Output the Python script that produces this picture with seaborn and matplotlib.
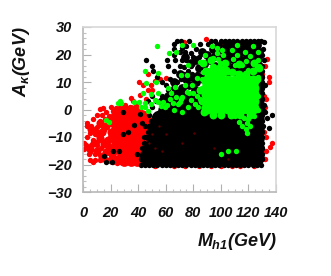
import matplotlib
matplotlib.use("Agg")
import matplotlib.pyplot as plt
import seaborn as sns
import pandas as pd
from matplotlib.ticker import MultipleLocator

sns.set_theme(style="white")
plt.rcParams['font.family'] = ['Liberation Sans', 'DejaVu Sans']
plt.rcParams['mathtext.fontset'] = 'custom'
plt.rcParams['mathtext.it'] = 'Liberation Sans:italic:bold'
plt.rcParams['mathtext.rm'] = 'Liberation Sans:italic:bold'

x_ticks = [0, 20, 40, 60, 80, 100, 120, 140]
y_ticks = [-30, -20, -10, 0, 10, 20, 30]

red_core = [
 (30,0),(35,0),(39,0),(24,-2),(29,-2),(34,-2),(39,-2),(43,-2),
 (22,-4.5),(27,-4.5),(32,-4.5),(37,-4.5),(42,-4.5),(47,-4.5),
 (24,-7),(30,-7),(35,-7),(40,-7),(45,-7),(22,-9.5),(28,-9.5),(33,-9.5),(38,-9.5),(43,-9.5),
 (26,-12),(31,-12),(36,-12),(41,-12),(46,-12),(24,-14.5),(29,-14.5),(34,-14.5),(39,-14.5),
 (28,-17),(33,-17),(37,-17),(42,-17),(30,-18.8),(35,-18.8),(39,-18.8),(44,-18.8),
]
red_mid = [
 (17,-6),(20,-8),(14,-8),(18,-11),(15,-12.5),(19,-13.5),(21,-16),(17,-15.5),(23,-12),(12,-5),(10,-8.5),(8,-12),
 (21,-3),(25,-0.5),(18,-4),(12,-10.5),(5,-14.5),(10,-15),(24,-18),(20,-18.5),(14,-17.5),(6,-7),
]
red_small = [
 (47.2,12.8),(40.7,10.1),(43.6,8.9),(49.6,8.9),(47.2,7.1),(52,10.5),(56.1,11),(60,11.3),(34.6,4.3),(41,5.3),
 (14.5,.4),(12.5,.2),(20.6,.8),(22,-.5),(30.2,1.6),(46,4),(50,7.1),(38.7,1.6),(33.9,1),(24.2,.4),(27,1),(36,3),
 (10,-2),(14,-2),(17,-1),(19,-2.5),(7,-3.5),(12,-4),(16,-3.5),(3,-6),(6,-6),(10,-6.5),(14,-6),
 (5,-8.5),(9,-9),(13,-9),(15,-7.5),(3,-10),(7,-11),(11,-11.5),(14,-11),(2.5,-13),(6,-13),(10,-13),(13,-14),
 (1,-14.5),(5,-15.5),(4,-16),(9,-16),(12,-16.5),(15,-16),(5,-18.5),(7,-19),(9,-18.5),(12,-18.5),(17,-18),(19,-18.5),(22,-19),(25,-19.5),(27,-19),
 (20,-16),(1,-12),(3,-5),(8,-7.5),
 (133.4,18.4),(135,11.9),(135,10),(132,16),(132,1),(133,4),(137,-12),(136,-13.6),(133,-15),(132,-18),(131,-8),
 (52,-20.5),(66,-20.5),(74,-20.4),(84,-20.5),(93,-20.5),(100,-20.4),(108,-20.5),(114,-20.5),(124,-20.4),
 (133,-10),(131,5),(130,13),(73,24.5),(89,25.5),(100,24),(103,24.5),(115,22),
]
black_core = [
 (47,-17.3),(53,-17.3),(59,-17.3),(65,-17.3),(71.5,-17.3),(78,-17.3),(84.5,-17.3),(91,-17.3),(97.5,-17.3),(104,-17.3),(110.5,-17.3),(117,-17.3),(124.5,-17.3),
 (50,-14),(56,-14),(62,-14),(68,-14),(74.5,-14),(81,-14),(87.5,-14),(94,-14),(100.5,-14),(107,-14),(113.5,-14),(120,-14),(124.5,-14),
 (52,-10.5),(58.5,-10.5),(65,-10.5),(71.5,-10.5),(78,-10.5),(84.5,-10.5),(91,-10.5),(97.5,-10.5),(104,-10.5),(110.5,-10.5),(117,-10.5),(124.5,-10.5),
 (53,-7),(59,-7),(65,-7),(71,-7),(77.5,-7),(84,-7),(90.5,-7),(97,-7),(103.5,-7),(110,-7),(116.5,-7),(124.5,-7),
 (56,-3.5),(62.5,-3.5),(69,-3.5),(75.5,-3.5),(82,-3.5),(88.5,-3.5),(95,-3.5),(101.5,-3.5),(108,-3.5),(114.5,-3.5),(124.5,-3.5),
 (61,0),(67.5,0),(74,0),(80.5,0),(87,0),(94,0),(105,0),(115,0),(124.5,0),
 (67,3.5),(73,3.5),(79.5,3.5),(86,3.5),
 (124.5,4),(124.5,8),(124.5,12),(96,4),(106,6),(116,6),
]
black_mid = [
 (104,23.5),(108.5,23.5),(113,23.5),(117.5,23.5),(122,23.5),(126.5,23.5),
 (102,21),(106.5,21),(111,21),(115.5,21),(120,21),(124.5,21),(127.5,21),
 (100,18.5),(104.5,18.5),(109,18.5),(113.5,18.5),(118,18.5),(122.5,18.5),(127,18.5),
 (96,16),(101,16),(105.5,16),(110,16),(114.5,16),(119,16),(123.5,16),(127.5,16),
 (90,13.5),(95,13.5),(100,13.5),(105,13.5),(110,13.5),(115,13.5),(120,13.5),(127,13),
 (82,10),(87,11),(72,8),(77,9),(81,7),(68,6),(84,15),(88,16.5),(92,18),(96,19.5),(94,22),(98,23),
 (127.5,9),(127.5,5),(127.5,1),(128,-2),(75,11),(79,12),(84,12),(62,5),(57,3),
 (90,20),(86,21),(82,18),(78,17),(74,19),(70,13),(66,10),
]
black_small = [
 (42,-20),(45,-20),(48,-20),(51,-20),(54,-20),(57,-20),(60,-20),(63,-20),(66,-20),(69,-20),(72,-20),(75,-20),(78,-20),(81,-20),(84,-20),
 (87,-20),(90,-20),(93,-20),(96,-20),(99,-20),(102,-20),(105,-20),(108,-20),(111,-20),(114,-20),(117,-20),(120,-20),(123,-20),(126,-20),(129,-20),
 (130,-18),(130,-16),(130,-14),(130,-12),(130,-10),(130,-8),(130.5,-6),(130,-4),(130,-2),(130.5,0),(129.5,2),(130,4),(130,6),(130,8),(129.5,10),(130,12),(130,14),(130,16),(131,18),(130,20),(130.5,22),(131,24.5),
 (103,25),(106,25),(109,25),(112,25),(115,25),(118,25),(121,25),(124,25),(127,25),(129,25),
 (137,-2),(135,-6.7),(133.5,-3),(131.6,1.6),(132,9),(132,-1),
 (15,-17),(17,-19),(21,-19),(22,-15),(26,-15),(29,-9),(39,-16),(29,-1),(37,-5.5),(43,-5),(41,-1.5),(33,-8),(44,-10),(43,-14),(42,-18),(46,-19),
 (50,5),(47,3),(53,3),(57,5),(60,4),(62,7),(65,8),(60,9),(63,11),(68,10),(71,11),(73,13),(76,14),(79,13),(83,13),(66,14),(70,16),
 (57,10),(53.5,12),(50,16),(46,18),(51,14),(61,18),(67,18),(72,18),(66,22),(62,16),(68,25),(71,25),(74,21),(72,22.5),(78,20.5),(80,19),
 (75,18),(77,25),(82,22),(85,24),(87,21),(91,24),(93,25),(96,25),(84,19),(70,21),(66,20),(66,24),(75,23),
 (100,25),(98,21),(73,15.5),(78,16),(56,-1),(48,-2),(45,-6),(50,1),(49,-4),(47,-8),(46,-10),(44,-12),(48,-6),
]
red_over = [(80.6,-8.5),(95,-14),(72,-12),(60,-9),(55,-6),(52,-14),(48,-12),(50,-9),(105,-18),(57,-15)]
green_core = [
 (90,0.5),(95,0.5),(100,0.5),(105,0.5),(110,0.5),(115,0.5),(120,0.5),(123.5,0.5),
 (90,3),(95,3),(100,3),(105,3),(110,3),(115,3),(120,3),(123.5,3),
 (90,5.5),(95,5.5),(100,5.5),(105,5.5),(110,5.5),(115,5.5),(120,5.5),(123.5,5.5),
 (90,8),(95,8),(100,8),(105,8),(110,8),(115,8),(120,8),(123.5,8),
 (90,10.5),(95,10.5),(100,10.5),(105,10.5),(110,10.5),(115,10.5),(120,10.5),(123.5,10.5),
 (92,13),(97,13),(101,14),
]
green_mid = [
 (89,14),(94,15.5),(99,15),(104,14.5),(108,13.5),(113,13),(118,13),(123,14),(126,11),
 (87,17),(93,18),(103,17),(113,16.5),(124,17),(127.5,15),(88,-1),(94,-2),(100,-2),(107,-2),(114,-2),(121,-2),(86,3),(85,7),
]
green_small = [
 (71.6,23.4),(80,23.4),(93.9,23.2),(97,22.2),(100.7,21.6),(111.5,23.4),(123.6,23.2),(108.4,21.6),(127.3,21),(117.6,21),
 (112,19.8),(121.2,19.4),(127.3,18),(88.5,19.8),(94.6,18.6),(101.9,19.8),(103,16.8),(110.3,16.2),(115.2,16.2),(120,14.3),
 (126,15.6),(105.5,13.7),(111.5,13.1),(99.4,16.8),(94.6,15),(88.5,14.4),(84.9,17.4),(76.5,16.2),(75.2,12.5),(82.5,11.3),
 (78.9,8.9),(75.2,6.5),(71.6,4.7),(78.4,3.4),(83.7,0.8),(87.3,13.7),(86,8),(85,4),(86,11),(127,12),(127,5),(127,0),
 (53.7,23.2),(62.4,20.4),(67.3,20.9),(44.8,14.1),(54.5,13.1),(52.8,10.1),(45.5,9.7),(71.4,12.5),(49.6,5.5),(43.6,5.9),
 (26.6,3.1),(25.4,2.5),(27.8,2.5),(36.8,2.6),(40.7,2.8),(42.4,0.8),(44.8,2.5),(52,3.4),(54.5,5.9),(58,2.8),(61.7,7.7),
 (66.5,8.3),(67.8,4.7),(71.4,4),(62.9,4),(59.3,1),(65.3,2.2),(56.9,1.3),(70.2,2.8),(54.5,2.8),(44.8,.8),
 (16.7,-3.8),(19.1,-4.4),(47.4,-0.4),(49,2),(61,1.5),(66,0),(72,-1),
 (120,-3.5),(124,-2.5),(117,-3),(110,-2.5),(119,-5),(118,-7),(119,-8.5),(115,-6),(121,-6),
 (113,-4.5),(100,-16),(105,-15),(111,-15),
 (83,5),(81,2),(76,1),(77,6),(80,6),(74,9),(69,2),(64,6),
 (98,18.5),(109,18.5),(118,17.5),(128,16),(97,20.5),
]

def frame(pts):
    return pd.DataFrame(pts, columns=["mh1", "akappa"])

fig = plt.figure(figsize=(3.31, 2.76), dpi=100)
ax = fig.add_axes([83/331, 1-192/276, 193/331, 165/276])

layers = [
    (red_core, "#ff0000", 60), (red_mid, "#ff0000", 34), (red_small, "#ff0000", 15),
    (black_core, "#000000", 175), (black_mid, "#000000", 40), (black_small, "#000000", 15),
    (red_over, "#5a0000", 3),
    (green_core, "#00ff00", 75), (green_mid, "#00ff00", 32), (green_small, "#00ff00", 15),
]
for pts, col, size in layers:
    sns.scatterplot(data=frame(pts), x="mh1", y="akappa", color=col, s=size,
                    linewidth=0, ax=ax, legend=False, clip_on=True)

ax.set_xlim(0, 140)
ax.set_ylim(-30, 30)
ax.set_xlabel("")
ax.set_ylabel("")
ax.set_xticks(x_ticks)
ax.set_yticks(y_ticks)
ax.xaxis.set_minor_locator(MultipleLocator(5))
ax.yaxis.set_minor_locator(MultipleLocator(2))
ax.tick_params(which="major", direction="in", length=5.5, width=0.8, color="#b0b0b0", bottom=True, left=True)
ax.tick_params(which="minor", direction="in", length=2.5, width=0.8, color="#c0c0c0", bottom=True, left=True)
ax.tick_params(axis="x", which="major", pad=10, labelsize=10.5)
ax.tick_params(axis="y", which="major", pad=8, labelsize=10.5)
for lab in ax.get_xticklabels() + ax.get_yticklabels():
    lab.set_fontweight("bold"); lab.set_fontstyle("italic"); lab.set_color("#111111")
for name, col in [("left", "#b8b8b8"), ("bottom", "#b8b8b8"), ("top", "#d8d8d8"), ("right", "#d8d8d8")]:
    ax.spines[name].set_color(col)
    ax.spines[name].set_linewidth(1.2)

fig.text(237/331, 1-242/276, r"$M_{h1}$(GeV)", ha="center", va="center", fontsize=13,
         fontweight="bold", fontstyle="italic", color="#111111")
fig.text(21/331, 1-62/276, "$A_{\u03ba}$(GeV)", rotation=90, ha="center", va="center",
         fontsize=13, fontweight="bold", fontstyle="italic", color="#111111")

fig.savefig("out.png", dpi=100)
